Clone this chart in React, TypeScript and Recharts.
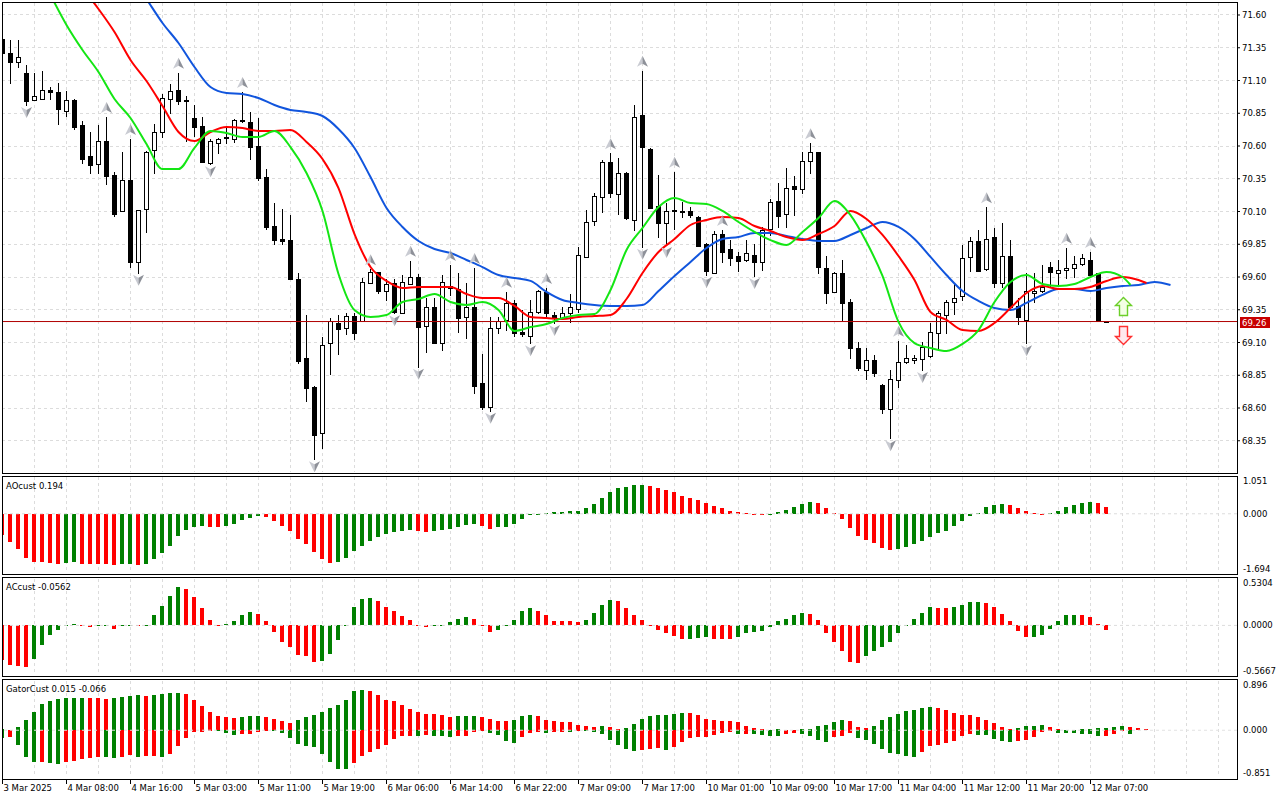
import React from 'react';
import {
  ComposedChart, Bar, Line, XAxis, YAxis, CartesianGrid, ReferenceLine, ReferenceDot,
} from 'recharts';

const FONT = '"DejaVu Sans", Verdana, sans-serif';
const FS = 8.5;
const GREEN = '#008000';
const RED = '#ff0000';
const GRID = '#dcdcdc';

// H1 candles, bar 0 = 3 Mar 2025
const opens = [
  71.414, 71.312, 71.239, 71.157, 70.949, 70.961, 71.027, 71.010, 70.865, 70.951,
  70.760, 70.524, 70.460, 70.638, 70.376, 70.102, 70.340, 69.712, 70.117, 70.567,
  70.705, 70.959, 71.027, 70.951, 70.814, 70.750, 70.473, 70.625, 70.660, 70.651,
  70.796, 70.781, 70.600, 70.363, 69.989, 69.890, 69.885, 69.585, 68.982, 68.763,
  68.411, 69.094, 69.249, 69.208, 69.300, 69.264, 69.557, 69.636, 69.495, 69.552,
  69.327, 69.547, 69.598, 69.228, 69.371, 69.098, 69.516, 69.508, 69.297, 69.373,
  68.789, 68.610, 69.208, 69.272, 69.399, 69.180, 69.150, 69.335, 69.483, 69.310,
  69.285, 69.323, 69.356, 69.755, 70.030, 70.208, 70.476, 70.234, 70.392, 70.035,
  70.837, 70.577, 70.142, 70.010, 70.112, 70.104, 70.106, 70.058, 69.852, 69.633,
  69.926, 69.814, 69.760, 69.730, 69.768, 69.717, 69.964, 70.178, 70.079, 70.295,
  70.270, 70.488, 70.557, 69.666, 69.488, 69.628, 69.407, 69.060, 68.890, 68.966,
  68.776, 68.590, 68.814, 68.949, 68.966, 68.972, 68.997, 69.170, 69.310, 69.407,
  69.455, 69.750, 69.875, 69.659, 69.903, 69.552, 69.758, 69.379, 69.272, 69.478,
  69.493, 69.679, 69.628, 69.653, 69.666, 69.697, 69.730, 69.628, 69.26,
];
const highs = [
  71.424, 71.409, 71.409, 71.218, 71.160, 71.173, 71.048, 71.081, 71.020, 70.958,
  70.791, 70.707, 70.760, 70.821, 70.402, 70.554, 70.653, 70.115, 70.564, 70.766,
  70.995, 71.073, 71.160, 70.982, 70.911, 70.821, 70.656, 70.661, 70.740, 70.806,
  71.012, 70.857, 70.811, 70.424, 70.165, 70.119, 70.073, 69.628, 69.308, 68.768,
  69.140, 69.285, 69.308, 69.323, 69.323, 69.590, 69.659, 69.638, 69.582, 69.582,
  69.615, 69.724, 69.621, 69.442, 69.442, 69.615, 69.692, 69.628, 69.556, 69.669,
  69.012, 69.292, 69.292, 69.488, 69.424, 69.348, 69.424, 69.501, 69.516, 69.335,
  69.373, 69.470, 69.831, 70.111, 70.243, 70.493, 70.544, 70.506, 70.402, 70.913,
  71.175, 70.585, 70.379, 70.165, 70.404, 70.175, 70.137, 70.066, 69.857, 69.951,
  69.959, 69.882, 69.789, 69.882, 69.852, 69.984, 70.196, 70.320, 70.430, 70.371,
  70.552, 70.621, 70.558, 69.760, 69.638, 69.730, 69.432, 69.106, 69.060, 69.005,
  68.783, 68.890, 69.114, 69.081, 69.005, 69.104, 69.247, 69.343, 69.424, 69.552,
  69.844, 69.903, 69.959, 70.132, 69.976, 70.014, 69.882, 69.437, 69.628, 69.633,
  69.692, 69.717, 69.730, 69.824, 69.760, 69.776, 69.791, 69.633, 69.26,
];
const lows = [
  71.294, 71.083, 71.205, 70.913, 70.949, 70.956, 70.956, 70.766, 70.831, 70.727,
  70.472, 70.396, 70.396, 70.308, 70.068, 70.102, 69.679, 69.633, 69.941, 70.392,
  70.667, 70.854, 70.918, 70.638, 70.676, 70.476, 70.460, 70.549, 70.621, 70.633,
  70.783, 70.503, 70.340, 69.964, 69.854, 69.850, 69.587, 68.941, 68.653, 68.208,
  68.297, 68.857, 69.010, 69.165, 69.129, 69.264, 69.552, 69.476, 69.424, 69.323,
  69.330, 69.547, 68.915, 69.030, 69.094, 69.043, 69.463, 69.178, 69.137, 68.712,
  68.590, 68.579, 69.170, 69.196, 69.150, 69.150, 69.094, 69.323, 69.292, 69.249,
  69.279, 69.259, 69.335, 69.755, 69.997, 70.098, 70.208, 70.079, 70.043, 69.959,
  69.831, 70.127, 69.903, 69.844, 69.964, 70.056, 70.060, 69.833, 69.615, 69.628,
  69.717, 69.692, 69.648, 69.724, 69.608, 69.653, 69.921, 69.984, 69.984, 70.073,
  70.244, 70.396, 69.633, 69.404, 69.485, 69.272, 68.979, 68.890, 68.819, 68.844,
  68.564, 68.369, 68.758, 68.941, 68.941, 68.890, 68.992, 69.056, 69.175, 69.318,
  69.424, 69.648, 69.646, 69.653, 69.521, 69.521, 69.354, 69.241, 69.094, 69.412,
  69.488, 69.526, 69.531, 69.590, 69.602, 69.692, 69.615, 69.264, 69.26,
];
const closes = [
  71.308, 71.243, 71.277, 70.946, 70.979, 71.027, 71.012, 70.880, 70.951, 70.747,
  70.503, 70.457, 70.636, 70.373, 70.083, 70.338, 69.717, 70.109, 70.554, 70.705,
  70.964, 71.020, 70.941, 70.944, 70.747, 70.476, 70.636, 70.651, 70.665, 70.796,
  70.791, 70.595, 70.358, 69.984, 69.880, 69.877, 69.587, 68.959, 68.755, 68.394,
  69.081, 69.264, 69.205, 69.300, 69.170, 69.564, 69.636, 69.493, 69.549, 69.330,
  69.560, 69.598, 69.218, 69.371, 69.098, 69.562, 69.531, 69.289, 69.373, 68.770,
  68.610, 69.208, 69.266, 69.399, 69.175, 69.163, 69.335, 69.493, 69.323, 69.292,
  69.323, 69.373, 69.768, 70.022, 70.218, 70.476, 70.239, 70.392, 70.048, 70.824,
  70.590, 70.129, 70.015, 70.104, 70.104, 70.100, 70.073, 69.837, 69.648, 69.926,
  69.793, 69.747, 69.724, 69.781, 69.717, 69.959, 70.173, 70.066, 70.277, 70.270,
  70.488, 70.557, 69.679, 69.480, 69.633, 69.404, 69.060, 68.903, 68.966, 68.870,
  68.590, 68.819, 68.949, 68.979, 68.984, 69.068, 69.178, 69.323, 69.407, 69.437,
  69.743, 69.877, 69.648, 69.888, 69.552, 69.763, 69.373, 69.292, 69.495, 69.493,
  69.526, 69.641, 69.653, 69.671, 69.699, 69.747, 69.615, 69.264, 69.26,
];

const fractalUpBars = [13, 16, 22, 30, 46, 51, 56, 59, 63, 68, 76, 80, 84, 90, 101, 112, 123, 133, 136];
const fractalDownBars = [3, 17, 26, 39, 49, 52, 61, 66, 69, 80, 83, 88, 94, 111, 115, 128];

// Alligator lines, read every second bar (shifted lines run past the last candle)
const jawStart = 16;
const jawEnd = 146;
const jaw = [
  71.905, 71.722, 71.539, 71.386, 71.203, 71.050, 71.005, 70.997, 70.966, 70.913,
  70.875, 70.860, 70.829, 70.730, 70.585, 70.363, 70.127, 69.982, 69.875, 69.814,
  69.783, 69.730, 69.676, 69.615, 69.592, 69.570, 69.486, 69.424, 69.402, 69.386,
  69.379, 69.379, 69.386, 69.493, 69.608, 69.715, 69.821, 69.890, 69.905, 69.936,
  69.936, 69.913, 69.890, 69.875, 69.875, 69.921, 69.974, 70.020, 69.982, 69.890,
  69.753, 69.615, 69.493, 69.417, 69.363, 69.348, 69.402, 69.463, 69.508, 69.508,
  69.493, 69.516, 69.531, 69.539, 69.562, 69.539,
];
const teethStart = 10;
const teethEnd = 143;
const teeth = [
  71.806, 71.646, 71.470, 71.257, 71.096, 70.905, 70.707, 70.638, 70.707, 70.745,
  70.737, 70.715, 70.715, 70.722, 70.631, 70.501, 70.279, 69.928, 69.676, 69.570,
  69.516, 69.524, 69.524, 69.524, 69.470, 69.440, 69.440, 69.379, 69.295, 69.287,
  69.279, 69.295, 69.302, 69.310, 69.432, 69.631, 69.791, 69.890, 69.997, 70.035,
  70.058, 70.050, 69.989, 69.951, 69.905, 69.882, 69.928, 69.989, 70.104, 70.043,
  69.921, 69.760, 69.577, 69.333, 69.272, 69.195, 69.188, 69.249, 69.363, 69.478,
  69.531, 69.508, 69.508, 69.524, 69.570, 69.600, 69.577, 69.554,
];
const lipsStart = 6;
const lipsEnd = 141;
const lips = [
  71.753, 71.524, 71.333, 71.165, 70.959, 70.814, 70.615, 70.424, 70.424, 70.585,
  70.715, 70.699, 70.669, 70.669, 70.715, 70.592, 70.394, 70.104, 69.623, 69.348,
  69.295, 69.310, 69.409, 69.432, 69.470, 69.409, 69.386, 69.409, 69.348, 69.188,
  69.218, 69.241, 69.287, 69.310, 69.318, 69.501, 69.806, 69.974, 70.134, 70.203,
  70.165, 70.157, 70.104, 70.020, 69.944, 69.882, 69.844, 69.944, 70.050, 70.180,
  70.073, 69.867, 69.608, 69.257, 69.096, 69.058, 69.035, 69.089, 69.195, 69.409,
  69.562, 69.615, 69.547, 69.531, 69.547, 69.600, 69.638, 69.600, 69.539,
];

const aoValues = [
  -0.607, -0.794, -0.999, -1.279, -1.382, -1.384, -1.419, -1.447, -1.410, -1.382,
  -1.429, -1.438, -1.440, -1.447, -1.475, -1.447, -1.438, -1.475, -1.447, -1.307,
  -1.120, -0.915, -0.635, -0.467, -0.392, -0.345, -0.373, -0.375, -0.345, -0.299,
  -0.187, -0.131, -0.060, -0.093, -0.215, -0.345, -0.495, -0.719, -0.878, -1.102,
  -1.307, -1.419, -1.382, -1.279, -1.074, -0.915, -0.766, -0.654, -0.579, -0.523,
  -0.495, -0.467, -0.495, -0.523, -0.486, -0.467, -0.439, -0.373, -0.327, -0.299,
  -0.355, -0.439, -0.392, -0.373, -0.299, -0.159, -0.047, -0.012, 0.008, 0.037,
  0.056, 0.084, 0.093, 0.177, 0.289, 0.458, 0.616, 0.738, 0.766, 0.812,
  0.822, 0.794, 0.728, 0.682, 0.626, 0.514, 0.458, 0.401, 0.317, 0.233,
  0.168, 0.093, 0.047, 0.028, -0.020, -0.030, -0.010, 0.040, 0.097, 0.193,
  0.271, 0.329, 0.300, 0.155, 0.010, -0.155, -0.415, -0.628, -0.744, -0.850,
  -0.976, -1.034, -0.995, -0.937, -0.879, -0.792, -0.657, -0.560, -0.483, -0.357,
  -0.213, -0.058, 0.029, 0.184, 0.251, 0.280, 0.251, 0.164, 0.068, 0.010,
  0.004, 0.020, 0.068, 0.184, 0.251, 0.309, 0.338, 0.300, 0.194,
];
const acValues = [
  -0.399, -0.448, -0.459, -0.478, -0.381, -0.224, -0.112, -0.056, 0.007, 0.015,
  0.008, -0.015, -0.008, -0.004, -0.041, -0.010, 0.004, 0.000, 0.008, 0.123,
  0.224, 0.336, 0.437, 0.418, 0.325, 0.194, 0.067, -0.004, 0.019, 0.056,
  0.123, 0.149, 0.134, 0.045, -0.075, -0.187, -0.243, -0.336, -0.354, -0.414,
  -0.410, -0.325, -0.168, 0.007, 0.205, 0.306, 0.317, 0.280, 0.213, 0.168,
  0.112, 0.067, 0.007, -0.015, -0.007, 0.004, 0.034, 0.078, 0.101, 0.078,
  -0.007, -0.078, -0.052, -0.004, 0.067, 0.168, 0.201, 0.168, 0.123, 0.056,
  0.054, 0.045, 0.034, 0.067, 0.146, 0.235, 0.291, 0.280, 0.194, 0.123,
  0.067, -0.007, -0.052, -0.086, -0.123, -0.157, -0.155, -0.142, -0.131, -0.157,
  -0.159, -0.161, -0.131, -0.086, -0.077, -0.066, -0.019, 0.046, 0.077, 0.116,
  0.147, 0.135, 0.058, -0.089, -0.193, -0.297, -0.413, -0.429, -0.355, -0.290,
  -0.251, -0.193, -0.089, 0.008, 0.069, 0.147, 0.208, 0.197, 0.195, 0.212,
  0.232, 0.266, 0.268, 0.251, 0.212, 0.135, 0.046, -0.066, -0.135, -0.133,
  -0.104, -0.039, 0.046, 0.116, 0.124, 0.122, 0.093, 0.019, -0.0562,
];
const gatorUpper = [
  0.024, 0.012, 0.065, 0.190, 0.333, 0.469, 0.529, 0.564, 0.582, 0.588,
  0.594, 0.588, 0.582, 0.576, 0.588, 0.606, 0.624, 0.636, 0.618, 0.636,
  0.660, 0.671, 0.677, 0.660, 0.559, 0.440, 0.333, 0.261, 0.244, 0.226,
  0.244, 0.250, 0.261, 0.244, 0.208, 0.160, 0.137, 0.184, 0.232, 0.279,
  0.339, 0.398, 0.458, 0.559, 0.707, 0.737, 0.719, 0.636, 0.559, 0.529,
  0.458, 0.386, 0.333, 0.297, 0.291, 0.279, 0.244, 0.250, 0.261, 0.265,
  0.238, 0.208, 0.172, 0.170, 0.190, 0.261, 0.279, 0.261, 0.190, 0.160,
  0.143, 0.141, 0.101, 0.083, 0.065, 0.083, 0.065, 0.030, 0.042, 0.113,
  0.202, 0.261, 0.279, 0.285, 0.297, 0.315, 0.313, 0.279, 0.208, 0.190,
  0.172, 0.170, 0.143, 0.083, 0.037, 0.018, 0.012, 0.016, 0.008, 0.012,
  0.018, 0.025, 0.086, 0.104, 0.141, 0.178, 0.166, 0.055, 0.043, 0.086,
  0.178, 0.240, 0.301, 0.344, 0.375, 0.412, 0.424, 0.406, 0.369, 0.320,
  0.283, 0.270, 0.240, 0.178, 0.135, 0.055, 0.018, 0.049, 0.080, 0.086,
  0.092, 0.055, 0.018, 0.012, 0.013, 0.018, 0.025, 0.043, 0.049, 0.050,
  0.068, 0.061, 0.037, 0.015,
];
const gatorLower = [
  -0.143, -0.125, -0.273, -0.481, -0.576, -0.570, -0.588, -0.612, -0.570, -0.553,
  -0.529, -0.499, -0.481, -0.493, -0.511, -0.481, -0.452, -0.481, -0.469, -0.463,
  -0.493, -0.428, -0.291, -0.143, -0.036, -0.024, -0.012, -0.018, -0.053, -0.095,
  -0.077, -0.065, -0.024, -0.006, -0.012, -0.053, -0.143, -0.255, -0.285, -0.303,
  -0.434, -0.570, -0.707, -0.713, -0.588, -0.463, -0.392, -0.339, -0.273, -0.160,
  -0.107, -0.101, -0.107, -0.095, -0.101, -0.107, -0.131, -0.107, -0.101, -0.036,
  -0.012, -0.053, -0.095, -0.196, -0.232, -0.125, -0.053, -0.030, -0.053, -0.036,
  -0.030, -0.036, -0.006, -0.012, -0.036, -0.071, -0.172, -0.267, -0.339, -0.374,
  -0.351, -0.333, -0.327, -0.351, -0.303, -0.214, -0.143, -0.125, -0.119, -0.095,
  -0.053, -0.036, -0.065, -0.061, -0.068, -0.086, -0.098, -0.104, -0.068, -0.055,
  -0.068, -0.111, -0.178, -0.209, -0.129, -0.098, -0.055, -0.141, -0.178, -0.252,
  -0.344, -0.406, -0.436, -0.467, -0.479, -0.387, -0.295, -0.264, -0.240, -0.191,
  -0.111, -0.068, -0.086, -0.092, -0.160, -0.203, -0.221, -0.191, -0.178, -0.129,
  -0.037, -0.006, -0.049, -0.050, -0.051, -0.061, -0.068, -0.098, -0.096, -0.068,
  -0.018, -0.066,
];
// direction of the first (leftmost) bar of each histogram
const firstRising = { ao: false, ac: false, upper: true, lower: true };

const priceTicks = [68.35, 68.6, 68.85, 69.1, 69.35, 69.6, 69.85, 70.1, 70.35, 70.6, 70.85, 71.1, 71.35, 71.6];
const timeTickBars = [0, 8, 16, 24, 32, 40, 48, 56, 64, 72, 80, 88, 96, 104, 112, 120, 128, 136];
const timeLabels = [
  '3 Mar 2025', '4 Mar 08:00', '4 Mar 16:00', '5 Mar 03:00', '5 Mar 11:00', '5 Mar 19:00',
  '6 Mar 06:00', '6 Mar 14:00', '6 Mar 22:00', '7 Mar 09:00', '7 Mar 17:00', '10 Mar 01:00',
  '10 Mar 09:00', '10 Mar 17:00', '11 Mar 04:00', '11 Mar 12:00', '11 Mar 20:00', '12 Mar 07:00',
];
const signalBar = 140;
const buySignalTop = 69.45;
const sellSignalTip = 69.088;

const gridBars = Array.from({ length: 38 }, (_, k) => 4 * (k + 1));
const X_DOMAIN: [number, number] = [-0.0625, 154.3125];
const PRICE_DOMAIN: [number, number] = [68.1115, 71.6916];
const AO_DOMAIN: [number, number] = [-1.694, 1.051];
const AC_DOMAIN: [number, number] = [-0.5667, 0.5304];
const GATOR_DOMAIN: [number, number] = [-0.851, 0.896];
const lastPrice = closes[closes.length - 1];

// ---- tables ----
const mainRows: any[] = Array.from({ length: jawEnd + 1 }, (_, i) => ({
  i,
  range: i < opens.length ? [lows[i], highs[i]] : null,
  o: opens[i], h: highs[i], l: lows[i], c: closes[i],
  jaw: null, teeth: null, lips: null, fu: null, fd: null,
}));
const place = (key: string, start: number, end: number, vals: number[]) =>
  vals.forEach((v, k) => { mainRows[Math.min(start + 2 * k, end)][key] = v; });
place('jaw', jawStart, jawEnd, jaw);
place('teeth', teethStart, teethEnd, teeth);
place('lips', lipsStart, lipsEnd, lips);
fractalUpBars.forEach((b) => { mainRows[b].fu = highs[b]; });
fractalDownBars.forEach((b) => { mainRows[b].fd = lows[b]; });

const histRows = (vals: number[], first: boolean) => vals.map((v, i) => ({
  i, v, color: (i === 0 ? first : v > vals[i - 1]) ? GREEN : RED,
}));
const aoRows = histRows(aoValues, firstRising.ao);
const acRows = histRows(acValues, firstRising.ac);
const gatorRows = gatorUpper.map((up, i) => {
  const lo = i < gatorLower.length ? gatorLower[i] : 0;
  const upRise = i === 0 ? firstRising.upper : up > gatorUpper[i - 1];
  const loRise = i === 0 ? firstRising.lower : Math.abs(lo) > Math.abs(gatorLower[i - 1] ?? 0);
  return { i, range: [lo, up], up, lo, upColor: upRise ? GREEN : RED, loColor: loRise ? GREEN : RED };
});

// ---- shapes ----
function Candle(props: any) {
  const { x, y, width, height, payload } = props;
  if (!payload || payload.o == null || x == null || !isFinite(y)) return <g />;
  const { o, h, l, c } = payload;
  const top = Math.min(y, y + height);
  const hh = Math.abs(height);
  const span = h - l;
  const py = (p: number) => (span > 0 ? top + ((h - p) / span) * hh : top);
  const cx = Math.floor(x + width / 2);
  const yTop = Math.round(py(Math.max(o, c)));
  const yBot = Math.round(py(Math.min(o, c)));
  const yH = Math.round(py(h));
  const yL = Math.round(py(l));
  const bull = c >= o;
  return (
    <g shapeRendering="crispEdges">
      <line x1={cx + 0.5} x2={cx + 0.5} y1={yH} y2={yL + 1} stroke="#000" />
      {yBot - yTop < 1 ? (
        <line x1={cx - 2} x2={cx + 3} y1={yTop + 0.5} y2={yTop + 0.5} stroke="#000" />
      ) : (
        <rect x={cx - 1.5} y={yTop + 0.5} width={4} height={yBot - yTop}
          fill={bull ? '#fff' : '#000'} stroke="#000" />
      )}
    </g>
  );
}

function HistBar(props: any) {
  const { x, y, width, height, payload } = props;
  if (!payload || payload.v == null || !isFinite(y)) return <g />;
  const cx = Math.floor(x + width / 2);
  const t = Math.round(Math.min(y, y + height));
  const b = Math.round(Math.max(y, y + height));
  return <rect x={cx - 2} y={t} width={4} height={Math.max(b - t, 1)} fill={payload.color} shapeRendering="crispEdges" />;
}

function GatorBar(props: any) {
  const { x, y, width, height, payload } = props;
  if (!payload || !isFinite(y)) return <g />;
  const { up, lo } = payload;
  const span = up - lo;
  if (span <= 0) return <g />;
  const top = Math.min(y, y + height);
  const hh = Math.abs(height);
  const z = Math.round(top + (up / span) * hh);
  const yUp = Math.round(top);
  const yLo = Math.round(top + hh);
  const cx = Math.floor(x + width / 2);
  return (
    <g shapeRendering="crispEdges">
      {up > 0 && <rect x={cx - 2} y={yUp} width={4} height={Math.max(z - yUp, 1)} fill={payload.upColor} />}
      {lo < 0 && <rect x={cx - 2} y={z} width={4} height={Math.max(yLo - z, 1)} fill={payload.loColor} />}
    </g>
  );
}

function FractalUp(props: any) {
  const { cx, cy, payload, index } = props;
  if (!payload || payload.fu == null || cx == null || cy == null) return <g key={index} />;
  const x = Math.floor(cx) + 0.5;
  const tip = cy - 15, base = cy - 4, notch = cy - 7;
  return (
    <g key={index}>
      <path d={`M${x},${tip} L${x - 5.5},${base} L${x},${notch} Z`} fill="#c9cbd2" />
      <path d={`M${x},${tip} L${x + 5.5},${base} L${x},${notch} Z`} fill="#8e9199" />
    </g>
  );
}

function FractalDown(props: any) {
  const { cx, cy, payload, index } = props;
  if (!payload || payload.fd == null || cx == null || cy == null) return <g key={index} />;
  const x = Math.floor(cx) + 0.5;
  const tip = cy + 13, base = cy + 2, notch = cy + 5;
  return (
    <g key={index}>
      <path d={`M${x},${tip} L${x - 5.5},${base} L${x},${notch} Z`} fill="#c9cbd2" />
      <path d={`M${x},${tip} L${x + 5.5},${base} L${x},${notch} Z`} fill="#8e9199" />
    </g>
  );
}

function BuyArrow(props: any) {
  const x = Math.round(props.cx) + 0.5;
  const y = Math.round(props.cy) + 0.5;
  const d = `M${x},${y} L${x + 8},${y + 8} L${x + 4},${y + 8} L${x + 4},${y + 18} L${x - 4},${y + 18} L${x - 4},${y + 8} L${x - 8},${y + 8} Z`;
  return <path d={d} fill="#f3ffe6" stroke="#6ccf2a" strokeWidth={1.4} />;
}

function SellArrow(props: any) {
  const x = Math.round(props.cx) + 0.5;
  const y = Math.round(props.cy) + 0.5;
  const d = `M${x},${y} L${x + 8},${y - 8} L${x + 4},${y - 8} L${x + 4},${y - 18} L${x - 4},${y - 18} L${x - 4},${y - 8} L${x - 8},${y - 8} Z`;
  return <path d={d} fill="#ffe8ee" stroke="#ff3030" strokeWidth={1.4} />;
}

function PriceTag(props: any) {
  const vb = props.viewBox || {};
  const x = vb.x + vb.width;
  const y = Math.round(vb.y);
  return (
    <g>
      <rect x={x + 3} y={y - 5} width={30} height={11} fill="#c80000" />
      <text x={x + 5} y={y + 0.5} dy="0.36em" fill="#fff" fontSize={FS} fontFamily={FONT}>
        {lastPrice.toFixed(2)}
      </text>
    </g>
  );
}

const paneTick = (dom: [number, number], digits: number) => (props: any) => {
  const { x, y, payload } = props;
  const v = payload.value;
  const dy = v === dom[1] ? 4 : v === dom[0] ? -4 : 0;
  return (
    <text x={x} y={y + dy} dy="0.355em" fontSize={FS} fontFamily={FONT} fill="#000" textAnchor="start">
      {Number(v).toFixed(digits)}
    </text>
  );
};

function TimeTick(props: any) {
  const { x, y, payload } = props;
  const label = timeLabels[timeTickBars.indexOf(payload.value)];
  const px = Math.floor(x) + 0.5;
  return (
    <g>
      <line x1={px} x2={px} y1={y + 2} y2={y + 7} stroke="#000" />
      <text x={x + 1} y={y + 14} fontSize={FS} fontFamily={FONT} fill="#000">{label}</text>
    </g>
  );
}

const xAxisHidden = <XAxis dataKey="i" type="number" domain={X_DOMAIN} allowDataOverflow hide />;

function IndicatorPane({ rows, domain, digits, top, shape, withTime }: any) {
  return (
    <div style={{ position: 'absolute', left: 0, top }}>
      <ComposedChart width={1280} height={withTime ? 122 : 102} data={rows}
        margin={{ top: 3, right: 0, bottom: withTime ? 0 : 3, left: 2 }}>
        <CartesianGrid horizontal={false} verticalValues={gridBars} stroke={GRID} strokeDasharray="3 3" shapeRendering="crispEdges" />
        {withTime ? (
          <XAxis dataKey="i" type="number" domain={X_DOMAIN} allowDataOverflow ticks={timeTickBars}
            interval={0} height={23} axisLine={false} tickLine={false} tickSize={0} tickMargin={0} tick={TimeTick} />
        ) : xAxisHidden}
        <YAxis orientation="right" domain={domain} allowDataOverflow ticks={[domain[0], 0, domain[1]]}
          interval={0} width={43} axisLine={false} tickLine={false} tickSize={3} tickMargin={3}
          tick={paneTick(domain, digits)} />
        <Bar dataKey={withTime ? 'range' : 'v'} barSize={4} shape={shape} isAnimationActive={false} />
        <ReferenceLine y={0} stroke={withTime ? '#e2e2e2' : GRID} strokeDasharray="3 3" />
      </ComposedChart>
    </div>
  );
}

export default function App() {
  const aoLast = aoValues[aoValues.length - 1];
  const acLast = acValues[acValues.length - 1];
  const guLast = gatorUpper[gatorUpper.length - 1];
  const glLast = gatorLower[gatorLower.length - 1];
  return (
    <div style={{ position: 'relative', width: 1280, height: 800, background: '#fff', fontFamily: FONT }}>
      <style>{'body{margin:0}'}</style>
      <div style={{ position: 'absolute', left: 0, top: 0 }}>
        <ComposedChart width={1280} height={476} data={mainRows} margin={{ top: 3, right: 0, bottom: 4, left: 2 }}>
          <CartesianGrid verticalValues={gridBars} horizontalValues={priceTicks} stroke={GRID} strokeDasharray="3 3" shapeRendering="crispEdges" />
          {xAxisHidden}
          <YAxis orientation="right" domain={PRICE_DOMAIN} allowDataOverflow ticks={priceTicks} interval={0}
            width={43} axisLine={false} tickSize={3} tickMargin={2} tickLine={{ stroke: '#000' }}
            tick={{ fontSize: FS, fontFamily: FONT, fill: '#000' }} tickFormatter={(v: number) => v.toFixed(2)} />
          <ReferenceLine y={lastPrice} stroke="#b00000" label={(p: any) => <PriceTag {...p} />} />
          <Bar dataKey="range" barSize={5} shape={Candle} isAnimationActive={false} />
          <Line dataKey="jaw" stroke="#1155dd" strokeWidth={2} dot={false} activeDot={false} connectNulls type="monotone" isAnimationActive={false} />
          <Line dataKey="teeth" stroke="#ff0000" strokeWidth={2} dot={false} activeDot={false} connectNulls type="monotone" isAnimationActive={false} />
          <Line dataKey="lips" stroke="#14e614" strokeWidth={2} dot={false} activeDot={false} connectNulls type="monotone" isAnimationActive={false} />
          <Line dataKey="fu" stroke="none" dot={FractalUp} activeDot={false} isAnimationActive={false} />
          <Line dataKey="fd" stroke="none" dot={FractalDown} activeDot={false} isAnimationActive={false} />
          <ReferenceDot x={signalBar} y={buySignalTop} r={0} shape={BuyArrow} />
          <ReferenceDot x={signalBar} y={sellSignalTip} r={0} shape={SellArrow} />
        </ComposedChart>
      </div>
      <IndicatorPane rows={aoRows} domain={AO_DOMAIN} digits={3} top={474} shape={HistBar} />
      <IndicatorPane rows={acRows} domain={AC_DOMAIN} digits={4} top={576} shape={HistBar} />
      <IndicatorPane rows={gatorRows} domain={GATOR_DOMAIN} digits={3} top={678} shape={GatorBar} withTime />
      <svg width={1280} height={800} style={{ position: 'absolute', left: 0, top: 0, pointerEvents: 'none' }}>
        <g fill="none" stroke="#000" shapeRendering="crispEdges">
          <rect x={2.5} y={2.5} width={1235} height={471} />
          <rect x={2.5} y={476.5} width={1235} height={98} />
          <rect x={2.5} y={577.5} width={1235} height={99} />
          <rect x={2.5} y={679.5} width={1235} height={100} />
        </g>
        <g fontSize={FS} fontFamily={FONT} fill="#000">
          <text x={6} y={488.5}>{`AOcust ${aoLast.toFixed(3)}`}</text>
          <text x={6} y={590}>{`ACcust ${acLast.toFixed(4)}`}</text>
          <text x={6} y={692}>{`GatorCust ${guLast.toFixed(3)} ${glLast.toFixed(3)}`}</text>
        </g>
      </svg>
    </div>
  );
}
